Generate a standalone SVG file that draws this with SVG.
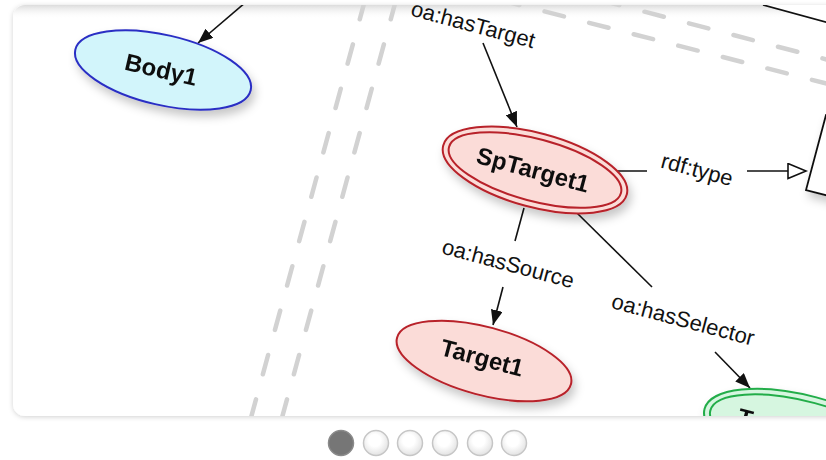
<svg xmlns="http://www.w3.org/2000/svg" width="826" height="460" viewBox="0 0 826 460">
<defs>
<style>
.edge{stroke:#111;stroke-width:1.6;fill:none}
.arr{marker-end:url(#ah)}
.dash{stroke:#d2d2d2;stroke-width:4.5;stroke-linecap:round;stroke-dasharray:20 26;fill:none}
.lbl{font-family:"Liberation Sans",Arial,sans-serif;font-size:22px;fill:#111;text-anchor:middle}
.nlbl{font-family:"Liberation Sans",Arial,sans-serif;font-size:24px;font-weight:bold;fill:#111;text-anchor:middle}
.red{fill:#fbdcd8;stroke:#b8222a;stroke-width:2}
.redi{fill:none;stroke:#b8222a;stroke-width:2}
.blue{fill:#d2f5fb;stroke:#2b2fc4;stroke-width:2}
.green{fill:#d6f6e0;stroke:#24ad4a;stroke-width:2}
.greeni{fill:none;stroke:#24ad4a;stroke-width:2}
.dot{fill:url(#dg);stroke:#c6c6c6;stroke-width:1.5}
</style>
<marker id="ah" markerUnits="userSpaceOnUse" markerWidth="16" markerHeight="12" refX="15" refY="6" orient="auto">
<path d="M0,0 L15,6 L0,12 z" fill="#111"/>
</marker>
<marker id="ho" markerUnits="userSpaceOnUse" markerWidth="22" markerHeight="18" refX="19" refY="8.5" orient="auto">
<path d="M1,1 L19,8.5 L1,16 z" fill="#fff" stroke="#111" stroke-width="1.6"/>
</marker>
<filter id="sh" x="-30%" y="-30%" width="160%" height="170%">
<feDropShadow dx="3" dy="6" stdDeviation="5" flood-color="#000" flood-opacity="0.22"/>
</filter>
<filter id="csh" x="-5%" y="-5%" width="110%" height="112%">
<feDropShadow dx="0" dy="1" stdDeviation="2.5" flood-color="#000" flood-opacity="0.18"/>
</filter>
<clipPath id="card">
<rect x="13" y="5" width="900" height="411" rx="12"/>
</clipPath>
<linearGradient id="topg" x1="0" y1="0" x2="0" y2="1">
<stop offset="0" stop-color="#dcdcdc"/>
<stop offset="1" stop-color="#ffffff" stop-opacity="0"/>
</linearGradient>
<radialGradient id="dg" cx="0.45" cy="0.4" r="0.6">
<stop offset="0.4" stop-color="#ffffff"/>
<stop offset="1" stop-color="#e2e2e2"/>
</radialGradient>
</defs>
<rect width="826" height="460" fill="#fff"/>
<rect x="13" y="5" width="900" height="411" rx="12" fill="#fff" filter="url(#csh)"/>
<g clip-path="url(#card)">
<rect x="13" y="5" width="900" height="14" fill="url(#topg)"/>
<g id="swimlanes">
<line class="dash" x1="365" y1="0" x2="249" y2="425"/>
<line class="dash" x1="396" y1="0" x2="280" y2="425"/>
<line class="dash" x1="500" y1="0" x2="840" y2="87"/>
<line class="dash" x1="600" y1="0" x2="840" y2="63"/>
</g>
<g id="connectors">
<line class="edge arr" x1="246" y1="2" x2="198" y2="43"/>
<line class="edge arr" x1="483" y1="43" x2="517" y2="127"/>
<line class="edge" x1="616" y1="171" x2="647" y2="171"/>
<line class="edge" x1="747" y1="171" x2="806" y2="171" marker-end="url(#ho)"/>
<line class="edge" x1="524" y1="208" x2="515" y2="241"/>
<line class="edge arr" x1="503" y1="287" x2="493" y2="325"/>
<line class="edge" x1="577" y1="213" x2="652" y2="287"/>
<line class="edge arr" x1="715" y1="352" x2="750" y2="388"/>
<text class="lbl" transform="translate(473,25) rotate(15)" y="7">oa:hasTarget</text>
<text class="lbl" transform="translate(697,170) rotate(15)" y="7">rdf:type</text>
<text class="lbl" transform="translate(508,264) rotate(15)" y="7">oa:hasSource</text>
<text class="lbl" transform="translate(683,320) rotate(15)" y="7">oa:hasSelector</text>
</g>
<g id="classbox-top">
<path d="M763,5 L840,26 L840,-10 L763,-10 z" fill="#fff" stroke="none"/>
<line x1="763" y1="5" x2="840" y2="26" stroke="#111" stroke-width="1.8"/>
</g>
<g id="classbox-right">
<path d="M826,115 L806,190 L845,200 L865,125 z" fill="#fff" stroke="#111" stroke-width="1.8" filter="url(#sh)"/>
</g>
<g id="Body1" filter="url(#sh)">
<ellipse class="blue" cx="163" cy="70" rx="90" ry="35" transform="rotate(13 163 70)"/>
<text class="nlbl" transform="translate(161,70) rotate(13)" y="8">Body1</text>
</g>
<g id="SpTarget1" filter="url(#sh)">
<ellipse class="red" cx="535" cy="170" rx="95" ry="37" transform="rotate(15 535 170)"/>
<ellipse class="redi" cx="535" cy="170" rx="89" ry="31" transform="rotate(15 535 170)"/>
<text class="nlbl" transform="translate(533,170) rotate(15)" y="8">SpTarget1</text>
</g>
<g id="Target1" filter="url(#sh)">
<ellipse class="red" cx="484" cy="361" rx="90" ry="34" transform="rotate(15 484 361)"/>
<text class="nlbl" transform="translate(482,358) rotate(15)" y="8">Target1</text>
</g>
<g id="Selector" filter="url(#sh)">
<ellipse class="green" cx="806" cy="436" rx="105" ry="40" transform="rotate(15 806 436)"/>
<ellipse class="greeni" cx="806" cy="436" rx="99" ry="34" transform="rotate(15 806 436)"/>
<text class="nlbl" style="text-anchor:start" transform="translate(736,424) rotate(15)">Te</text>
</g>
</g>
<g id="pager">
<circle cx="341" cy="443" r="12.5" fill="#767676" stroke="#8a8a8a" stroke-width="1.5"/>
<circle class="dot" cx="376" cy="443" r="12.5"/>
<circle class="dot" cx="410" cy="443" r="12.5"/>
<circle class="dot" cx="445" cy="443" r="12.5"/>
<circle class="dot" cx="480" cy="443" r="12.5"/>
<circle class="dot" cx="514" cy="443" r="12.5"/>
</g>
</svg>
